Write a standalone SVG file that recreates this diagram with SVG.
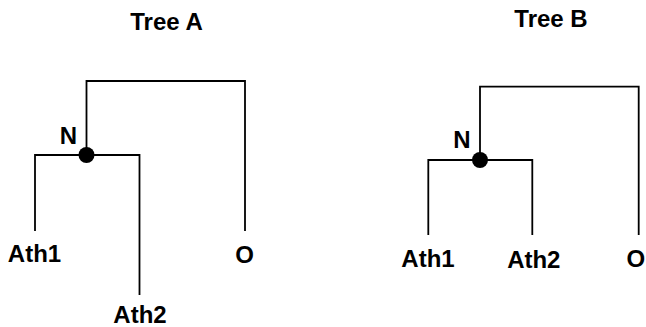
<svg xmlns="http://www.w3.org/2000/svg" width="646" height="327" viewBox="0 0 646 327">
<style>
.t{font-family:"Liberation Sans",Arial,sans-serif;font-weight:bold;font-size:24px;fill:#000}
.e{fill:none;stroke:#000;stroke-width:1.8;stroke-linecap:square}
.n{fill:#000}
</style>
<rect width="646" height="327" fill="#fff"/>
<g id="connectors">
<path class="e" d="M86.5,155V81H245V230"/>
<path class="e" d="M35,230V155H139.5V294"/>
<path class="e" d="M480,160V86.7H638.7V234"/>
<path class="e" d="M428.3,234V160H532.3V234"/>
</g>
<g id="titleA"><text class="t" x="166.5" y="30" text-anchor="middle">Tree A</text></g>
<g id="titleB"><text class="t" x="551" y="26.7" text-anchor="middle">Tree B</text></g>
<g id="nodeA_N"><circle class="n" cx="86.5" cy="155" r="8"/><text class="t" x="68.5" y="144" text-anchor="middle">N</text></g>
<g id="nodeA_Ath1"><text class="t" x="34.5" y="262" text-anchor="middle">Ath1</text></g>
<g id="nodeA_Ath2"><text class="t" x="140" y="322.5" text-anchor="middle">Ath2</text></g>
<g id="nodeA_O"><text class="t" x="244.5" y="263" text-anchor="middle">O</text></g>
<g id="nodeB_N"><circle class="n" cx="480" cy="160" r="8"/><text class="t" x="462" y="148.3" text-anchor="middle">N</text></g>
<g id="nodeB_Ath1"><text class="t" x="428" y="266.7" text-anchor="middle">Ath1</text></g>
<g id="nodeB_Ath2"><text class="t" x="533.8" y="268.3" text-anchor="middle">Ath2</text></g>
<g id="nodeB_O"><text class="t" x="626.5" y="267">O</text></g>
</svg>
